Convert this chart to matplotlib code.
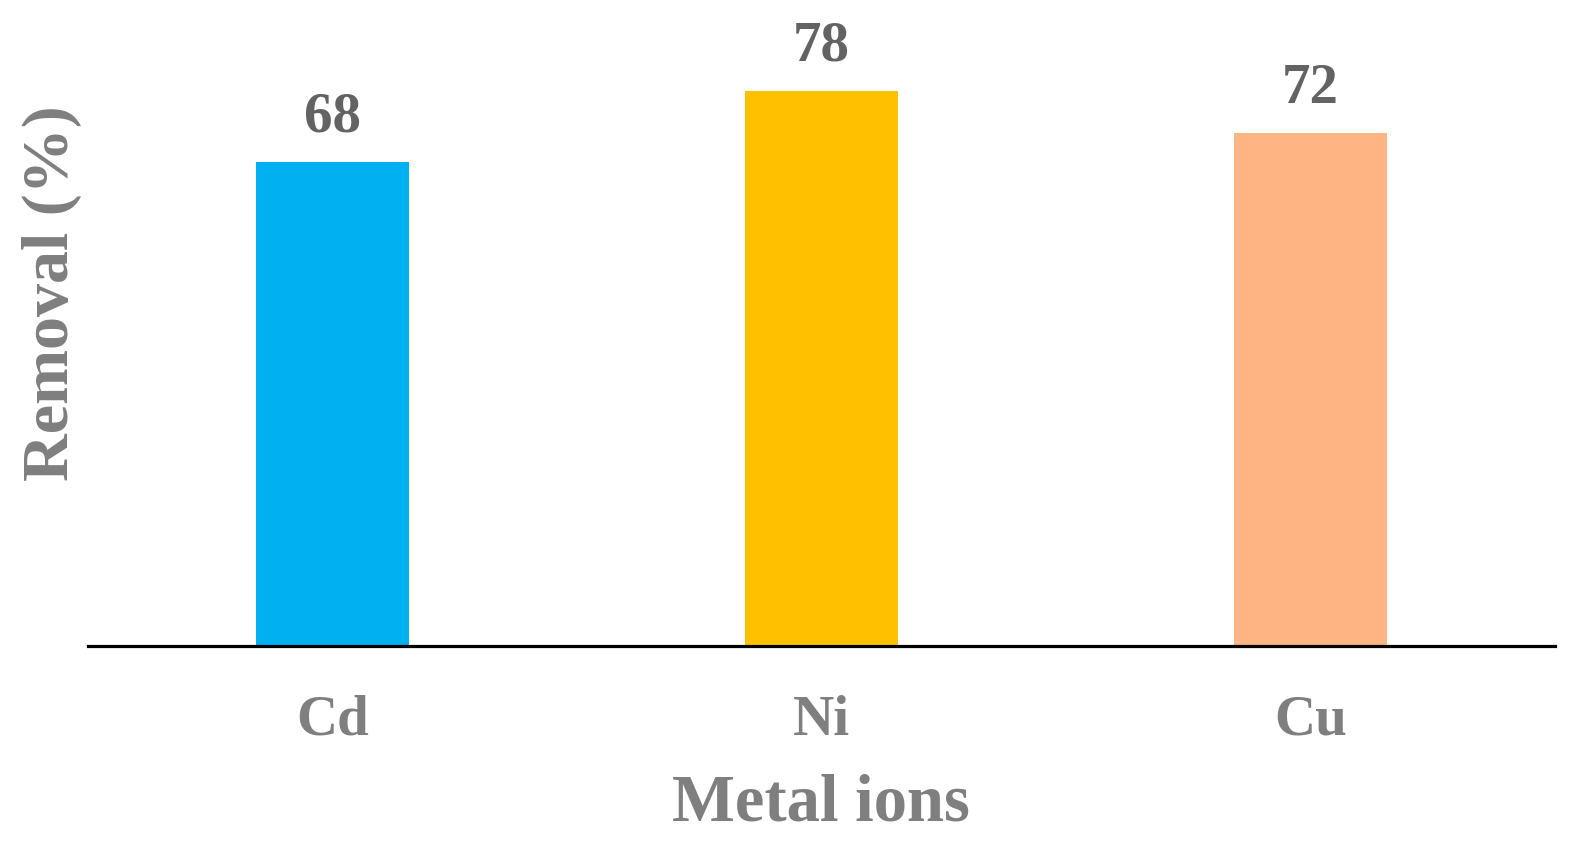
import matplotlib
matplotlib.use("Agg")
import matplotlib.pyplot as plt

# === Data ===
metals = ["Cd", "Ni", "Cu"]
removal = [68, 78, 72]
bar_colors = ["#00B0F0", "#FFC000", "#FFB583"]

plt.rcParams['font.family'] = ['Liberation Serif', 'DejaVu Serif']
plt.rcParams['font.weight'] = 'bold'

fig = plt.figure(figsize=(15.79, 8.44), dpi=100)
ax = fig.add_axes([0.0555, 0.2346, 0.9293, 0.7594])

x = range(len(metals))
bars = ax.bar(x, removal, width=0.313, color=bar_colors)

# value labels above the bars
for rect, val in zip(bars, removal):
    ax.annotate(f"{val}", (rect.get_x() + rect.get_width() / 2, rect.get_height()),
                xytext=(0, 13), textcoords="offset points",
                ha="center", va="bottom", fontsize=41, fontweight="bold",
                color="#636363")

ax.set_xlim(-0.5, 2.5)
ax.set_ylim(0, 90)

ax.set_xticks(list(x))
ax.set_xticklabels(metals, fontsize=41, fontweight="bold", color="#7F7F7F")
ax.tick_params(axis="x", length=0, pad=35)
ax.set_yticks([])

for side in ["top", "right", "left"]:
    ax.spines[side].set_visible(False)
ax.spines["bottom"].set_linewidth(2.3)
ax.spines["bottom"].set_color("black")

ax.set_xlabel("Metal ions", fontsize=48, fontweight="bold", color="#7F7F7F", va="center")
ax.xaxis.set_label_coords(0.5, -0.247)
ax.set_ylabel("Removal (%)", fontsize=47.5, fontweight="bold", color="#7F7F7F", va="center")
ax.yaxis.set_label_coords(-0.024, 0.55)

fig.savefig("out.png", dpi=100)
